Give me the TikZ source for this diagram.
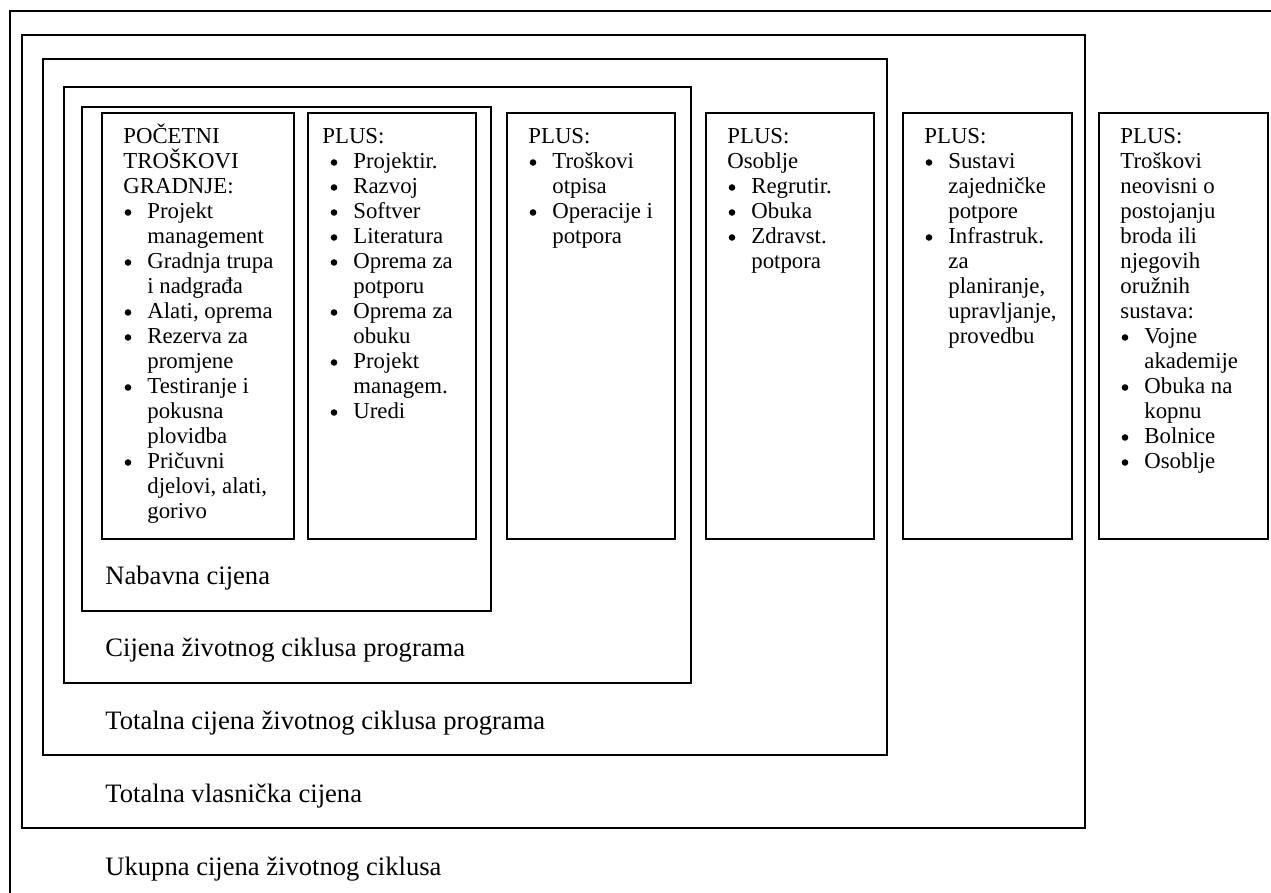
\documentclass[tikz,border=0pt]{standalone}
\usepackage{fontspec}
\setmainfont{Liberation Serif}
\tikzset{
  frame/.style={draw=black, line width=1pt},
  txt/.style={inner sep=0pt, anchor=base west, font=\fontsize{11.4}{12.5}\selectfont},
  bul/.style={circle, fill=black, inner sep=0pt, minimum size=3.3pt},
  lab/.style={inner sep=0pt, anchor=base west, font=\fontsize{13.3}{16}\selectfont},
}
\newcommand{\colbox}[5]{%
  \draw[frame] (#2,113) rectangle (#3,539);
  \foreach \k/\t [count=\i] in {#5} {
    \pgfmathsetmacro\yy{144+(\i-1)*25}
    \ifnum\k=0 \node[txt] (#1-\i) at (#4,\yy) {\t};\fi
    \ifnum\k=1 \node[bul] (#1-b\i) at (#2+26,\yy-6.5) {}; \node[txt] (#1-\i) at (#2+45,\yy) {\t};\fi
    \ifnum\k=2 \node[txt] (#1-\i) at (#2+45,\yy) {\t};\fi
  }
}
\begin{document}
\begin{tikzpicture}[x=0.5pt,y=-0.5pt]
\useasboundingbox (0,0) rectangle (1271,893);
\clip (0,0) rectangle (1271,893);
% nested frames
\draw[frame] (10,900) -- (10,11) -- (1285,11);
\draw[frame] (22,35) rectangle (1085,828);
\draw[frame] (43,59) rectangle (887,755);
\draw[frame] (64,87) rectangle (691,683);
\draw[frame] (82,107) rectangle (491,611);
% columns
\colbox{A}{102}{294}{123}{0/POČETNI, 0/TROŠKOVI, 0/GRADNJE:, 1/Projekt, 2/management, 1/Gradnja trupa, 2/i nadgrađa, 1/{Alati, oprema}, 1/Rezerva za, 2/promjene, 1/Testiranje i, 2/pokusna, 2/plovidba, 1/Pričuvni, 2/{djelovi, alati,}, 2/gorivo}
\colbox{B}{308}{476}{322}{0/PLUS:, 1/Projektir., 1/Razvoj, 1/Softver, 1/Literatura, 1/Oprema za, 2/potporu, 1/Oprema za, 2/obuku, 1/Projekt, 2/managem., 1/Uredi}
\colbox{C}{507}{675}{528}{0/PLUS:, 1/Troškovi, 2/otpisa, 1/Operacije i, 2/potpora}
\colbox{D}{706}{874}{727}{0/PLUS:, 0/Osoblje, 1/Regrutir., 1/Obuka, 1/Zdravst., 2/potpora}
\colbox{E}{903}{1072}{924}{0/PLUS:, 1/Sustavi, 2/zajedničke, 2/potpore, 1/Infrastruk., 2/za, 2/{planiranje,}, 2/{upravljanje,}, 2/provedbu}
\colbox{F}{1099}{1268}{1120}{0/PLUS:, 0/Troškovi, 0/neovisni o, 0/postojanju, 0/broda ili, 0/njegovih, 0/oružnih, 0/sustava:, 1/Vojne, 2/akademije, 1/Obuka na, 2/kopnu, 1/Bolnice, 1/Osoblje}
% labels
\node[lab] (l1) at (105,585) {Nabavna cijena};
\node[lab] (l2) at (105,656) {Cijena životnog ciklusa programa};
\node[lab] (l3) at (105,729) {Totalna cijena životnog ciklusa programa};
\node[lab] (l4) at (105,802) {Totalna vlasnička cijena};
\node[lab] (l5) at (105,875) {Ukupna cijena životnog ciklusa};
\end{tikzpicture}
\end{document}
